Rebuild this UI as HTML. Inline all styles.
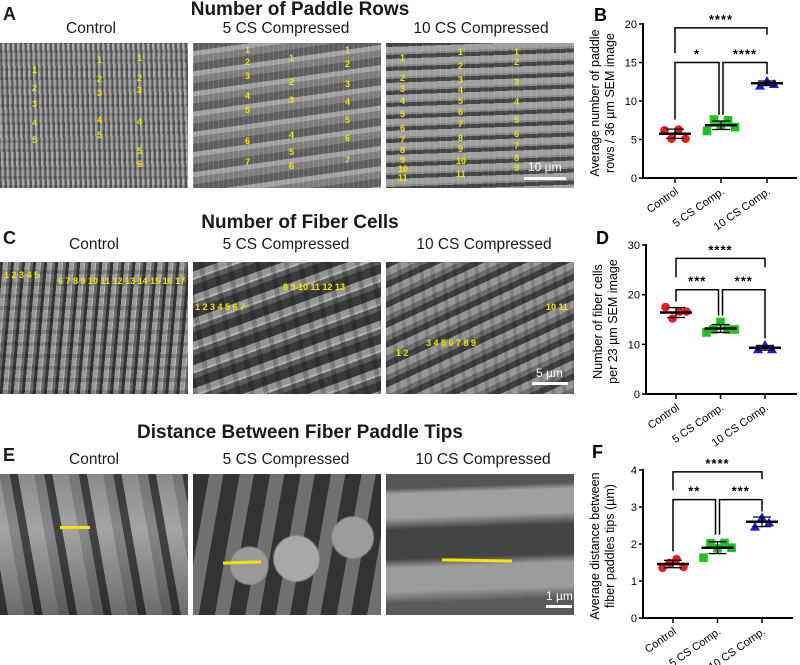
<!DOCTYPE html>
<html><head><meta charset="utf-8">
<style>
body{margin:0;width:800px;height:665px;background:#fff;position:relative;overflow:hidden;font-family:"Liberation Sans",Arial,sans-serif;color:#1a1a1a}
.t{position:absolute;white-space:nowrap}
.title{font-weight:bold;font-size:19px;transform:translateX(-50%)}
.lab{font-size:15.5px;transform:translateX(-50%)}
.pl{font-weight:bold;font-size:18px}
.img{position:absolute;overflow:hidden}
.y{position:absolute;color:#f2e600;font-size:9px;font-weight:bold}
.sb{position:absolute;height:3px;background:#fff}
.sbt{position:absolute;color:#fff;font-size:12px}
.yl{position:absolute;height:3px;background:#f5e400}
</style></head><body>

<div class="t pl" style="left:3px;top:4px">A</div>
<div class="t title" style="left:300px;top:-1px">Number of Paddle Rows</div>
<div class="t lab" style="left:91px;top:20px">Control</div>
<div class="t lab" style="left:286px;top:20px">5 CS Compressed</div>
<div class="t lab" style="left:481px;top:20px">10 CS Compressed</div>

<div class="img" style="left:0;top:43px;width:188px;height:145px;background:repeating-linear-gradient(0deg,rgba(0,0,0,.15) 0 3px,transparent 3px 9px),repeating-linear-gradient(88deg,#5a5a5a 0 2px,#aaa 2px 4px,#858585 4px 5px),#888">
<span class="y" style="left:32px;top:22px">1</span><span class="y" style="left:32px;top:40px">2</span><span class="y" style="left:32px;top:56px">3</span><span class="y" style="left:32px;top:75px">4</span><span class="y" style="left:32px;top:92px">5</span>
<span class="y" style="left:97px;top:12px">1</span><span class="y" style="left:97px;top:31px">2</span><span class="y" style="left:97px;top:45px">3</span><span class="y" style="left:97px;top:72px">4</span><span class="y" style="left:97px;top:87px">5</span>
<span class="y" style="left:137px;top:10px">1</span><span class="y" style="left:137px;top:30px">2</span><span class="y" style="left:137px;top:42px">3</span><span class="y" style="left:137px;top:74px">4</span><span class="y" style="left:137px;top:103px">5</span><span class="y" style="left:137px;top:116px">6</span>
</div>
<div class="img" style="left:193px;top:43px;width:188px;height:145px;background:repeating-linear-gradient(90deg,rgba(255,255,255,.12) 0 1px,transparent 1px 5px),repeating-linear-gradient(172deg,#5e5e5e 0 8px,#a2a2a2 8px 13px,#7e7e7e 13px 20px),#888">
<span class="y" style="left:52px;top:2px">1</span><span class="y" style="left:52px;top:14px">2</span><span class="y" style="left:52px;top:28px">3</span><span class="y" style="left:52px;top:48px">4</span><span class="y" style="left:52px;top:62px">5</span><span class="y" style="left:52px;top:93px">6</span><span class="y" style="left:52px;top:114px">7</span>
<span class="y" style="left:96px;top:10px">1</span><span class="y" style="left:96px;top:34px">2</span><span class="y" style="left:96px;top:52px">3</span><span class="y" style="left:96px;top:87px">4</span><span class="y" style="left:96px;top:104px">5</span><span class="y" style="left:96px;top:118px">6</span>
<span class="y" style="left:152px;top:2px">1</span><span class="y" style="left:152px;top:16px">2</span><span class="y" style="left:152px;top:36px">3</span><span class="y" style="left:152px;top:54px">4</span><span class="y" style="left:152px;top:72px">5</span><span class="y" style="left:152px;top:90px">6</span><span class="y" style="left:152px;top:112px">7</span>
</div>
<div class="img" style="left:386px;top:43px;width:188px;height:145px;background:repeating-linear-gradient(90deg,rgba(255,255,255,.1) 0 1px,transparent 1px 6px),repeating-linear-gradient(178deg,#444 0 4px,#a0a0a0 4px 10px,#888 10px 12px),#888">
<span class="y" style="left:14px;top:10px">1</span><span class="y" style="left:14px;top:30px">2</span><span class="y" style="left:14px;top:41px">3</span><span class="y" style="left:14px;top:53px">4</span><span class="y" style="left:14px;top:66px">5</span><span class="y" style="left:14px;top:80px">6</span><span class="y" style="left:14px;top:92px">7</span><span class="y" style="left:14px;top:102px">8</span><span class="y" style="left:14px;top:112px">9</span><span class="y" style="left:12px;top:121px">10</span><span class="y" style="left:12px;top:130px">11</span>
<span class="y" style="left:72px;top:4px">1</span><span class="y" style="left:72px;top:18px">2</span><span class="y" style="left:72px;top:32px">3</span><span class="y" style="left:72px;top:42px">4</span><span class="y" style="left:72px;top:53px">5</span><span class="y" style="left:72px;top:64px">6</span><span class="y" style="left:72px;top:76px">7</span><span class="y" style="left:72px;top:90px">8</span><span class="y" style="left:72px;top:101px">9</span><span class="y" style="left:70px;top:113px">10</span><span class="y" style="left:70px;top:126px">11</span>
<span class="y" style="left:128px;top:4px">1</span><span class="y" style="left:128px;top:14px">2</span><span class="y" style="left:128px;top:34px">3</span><span class="y" style="left:128px;top:54px">4</span><span class="y" style="left:128px;top:72px">5</span><span class="y" style="left:128px;top:86px">6</span><span class="y" style="left:128px;top:98px">7</span><span class="y" style="left:128px;top:110px">8</span><span class="y" style="left:128px;top:120px">9</span>
<div class="sb" style="left:138px;top:134px;width:42px"></div><span class="sbt" style="left:142px;top:117px">10 µm</span>
</div>

<div class="t pl" style="left:3px;top:228px">C</div>
<div class="t title" style="left:300px;top:212px">Number of Fiber Cells</div>
<div class="t lab" style="left:94px;top:236px">Control</div>
<div class="t lab" style="left:286px;top:236px">5 CS Compressed</div>
<div class="t lab" style="left:484px;top:236px">10 CS Compressed</div>
<div class="img" style="left:0;top:262px;width:188px;height:132px;background:repeating-linear-gradient(0deg,rgba(0,0,0,.18) 0 4px,transparent 4px 12px),repeating-linear-gradient(95deg,#363636 0 3px,#9a9a9a 3px 7px,#b8b8b8 7px 8px,#6a6a6a 8px 11px),#777">
<span class="y" style="left:4px;top:8px">1 2 3 4 5</span><span class="y" style="left:58px;top:14px">6 7 8 9 10 11 12 13 14 15 16 17</span>
</div>
<div class="img" style="left:193px;top:262px;width:188px;height:132px;background:repeating-linear-gradient(80deg,rgba(0,0,0,.2) 0 5px,transparent 5px 14px),repeating-linear-gradient(160deg,#3a3a3a 0 9px,#969696 9px 15px,#b4b4b4 15px 17px,#5e5e5e 17px 22px),#777">
<span class="y" style="left:2px;top:40px">1 2 3 4 5 6 7</span><span class="y" style="left:90px;top:20px">8 9 10 11 12 13</span>
</div>
<div class="img" style="left:386px;top:262px;width:188px;height:132px;background:repeating-linear-gradient(85deg,rgba(0,0,0,.15) 0 4px,transparent 4px 11px),repeating-linear-gradient(155deg,#404040 0 6px,#969696 6px 13px,#6f6f6f 13px 18px),#777">
<span class="y" style="left:10px;top:86px">1 2</span><span class="y" style="left:40px;top:76px">3 4 5 6 7 8 9</span><span class="y" style="left:160px;top:40px">10 11</span>
<div class="sb" style="left:146px;top:120px;width:36px"></div><span class="sbt" style="left:150px;top:104px">5 µm</span>
</div>

<div class="t pl" style="left:3px;top:445px">E</div>
<div class="t title" style="left:300px;top:422px">Distance Between Fiber Paddle Tips</div>
<div class="t lab" style="left:94px;top:451px">Control</div>
<div class="t lab" style="left:286px;top:451px">5 CS Compressed</div>
<div class="t lab" style="left:483px;top:451px">10 CS Compressed</div>
<div class="img" style="left:0;top:474px;width:188px;height:141px;background:linear-gradient(180deg,rgba(0,0,0,.15),rgba(0,0,0,0) 40%,rgba(0,0,0,.35)),repeating-linear-gradient(80deg,#444 0 8px,#a4a4a4 8px 24px,#888 24px 34px),#808080">
<div class="yl" style="left:60px;top:52px;width:30px"></div></div>
<div class="img" style="left:193px;top:474px;width:188px;height:141px;background:radial-gradient(circle at 55% 60%,#a8a8a8 0 22px,transparent 24px),radial-gradient(circle at 85% 45%,#9c9c9c 0 20px,transparent 22px),radial-gradient(circle at 30% 65%,#9a9a9a 0 18px,transparent 20px),repeating-linear-gradient(100deg,#333 0 16px,#707070 16px 30px),#555">
<div class="yl" style="left:30px;top:87px;width:38px;transform:rotate(-2deg)"></div></div>
<div class="img" style="left:386px;top:474px;width:188px;height:141px;background:linear-gradient(178deg,#555 0 10%,#a0a0a0 14% 30%,#444 38% 58%,#9c9c9c 64% 80%,#5a5a5a 88%)">
<div class="yl" style="left:56px;top:85px;width:70px;transform:rotate(1deg)"></div>
<div class="sb" style="left:160px;top:131px;width:26px"></div><span class="sbt" style="left:160px;top:115px">1 µm</span>
</div>

<svg id="charts" width="800" height="665" style="position:absolute;left:0;top:0"></svg>

<script>
const categories=["Control","5 CS Comp.","10 CS Comp."];
const bVals=[[6.2,5.1,6.3,5.1],[6.1,7.6,6.9,7.5,6.6],[12.0,12.6,12.2]];
const bMeans=[5.75,6.85,12.3];
const bSd=[0.6,0.55,0.3];
const bTicks=[0,5,10,15,20];
const dVals=[[17.5,15.2,16.6,16.6],[12.4,13.0,14.5,13.0,13.0],[9.0,9.9,9.0]];
const dMeans=[16.4,13.2,9.3];
const dSd=[1.0,0.8,0.45];
const dTicks=[0,10,20,30];
const fVals=[[1.36,1.49,1.59,1.38],[1.63,2.02,1.88,2.03,1.9],[2.47,2.72,2.58]];
const fMeans=[1.46,1.9,2.6];
const fSd=[0.1,0.16,0.13];
const fTicks=[0,1,2,3,4];
const bSig=[[0,2,19.5,16.2,18.6,"****"],[0,1,15,7.6,8.2,"*"],[1,2,15,8.2,13.5,"****"]];
const dSig=[[0,2,27.3,23.5,25.5,"****"],[0,1,21,18.6,15.8,"***"],[1,2,21,15.8,11.2,"***"]];
const fSig=[[0,2,3.95,3.45,3.75,"****"],[0,1,3.2,1.8,2.25,"**"],[1,2,3.2,2.25,2.88,"***"]];

const NS="http://www.w3.org/2000/svg";
const svg=document.getElementById("charts");
function mk(tag,attrs,parent){const e=document.createElementNS(NS,tag);for(const k in attrs)e.setAttribute(k,attrs[k]);(parent||svg).appendChild(e);return e;}
const colors=["#e81c1c","#1fc21f","#1a1aee"];

function chart(id,g){
  const grp=mk("g",{});
  
  
  const maxV=g.ticks[g.ticks.length-1];
  const Y=v=>g.y0-(v/maxV)*(g.y0-g.yTop);
  const X=i=>g.ax+g.first+i*g.step;
  const yAxis=mk("line",{x1:g.ax,y1:g.yTop-1,x2:g.ax,y2:g.y0+1,stroke:"#000","stroke-width":2},grp);
  
  
  const xAxis=mk("line",{x1:g.ax-1,y1:g.y0,x2:g.xEnd,y2:g.y0,stroke:"#000","stroke-width":2},grp);
  
  
  g.ticks.forEach(t=>{
    mk("line",{x1:g.ax-4,y1:Y(t),x2:g.ax,y2:Y(t),stroke:"#000","stroke-width":1.5},grp);
    const tx=mk("text",{x:g.ax-6,y:Y(t)+4,"text-anchor":"end","font-size":11,"font-family":"Liberation Sans, sans-serif"},grp);
    tx.textContent=t;
    
    
  });
  categories.forEach((c,i)=>{
    mk("line",{x1:X(i),y1:g.y0,x2:X(i),y2:g.y0+5,stroke:"#000","stroke-width":1.5},grp);
    const tx=mk("text",{x:X(i)+4,y:g.y0+15,"text-anchor":"end","font-size":11,"font-family":"Liberation Sans, sans-serif",transform:`rotate(-35 ${X(i)+4} ${g.y0+15})`},grp);
    tx.textContent=c;
    
    
  });
  g.vals.forEach((arr,i)=>{
    arr.forEach((v,k)=>{
      const n=arr.length;const dx=(k-(n-1)/2)*7;const cx=X(i)+dx,cy=Y(v);let m;
      if(i===0)m=mk("circle",{cx:cx,cy:cy,r:4.3,fill:colors[0]},grp);
      else if(i===1)m=mk("rect",{x:cx-4.3,y:cy-4.3,width:8.6,height:8.6,fill:colors[1]},grp);
      else m=mk("polygon",{points:`${cx},${cy-5} ${cx+5},${cy+4} ${cx-5},${cy+4}`,fill:colors[2]},grp);
      
      
    });
    const mY=Y(g.means[i]),hi=Y(g.means[i]+g.sd[i]),lo=Y(g.means[i]-g.sd[i]);
    const ml=mk("line",{x1:X(i)-16,y1:mY,x2:X(i)+16,y2:mY,stroke:"#000","stroke-width":2.5},grp);
    
    
    const eb=mk("path",{d:`M${X(i)},${hi}V${lo}M${X(i)-9},${hi}H${X(i)+9}M${X(i)-9},${lo}H${X(i)+9}`,stroke:"#000","stroke-width":1.3,fill:"none"},grp);
    
    
  });
  g.sig.forEach(s=>{
    const [a,b,lv,l1,l2,lab]=s;
    const xa=X(a)+(a===1?2:0),xb=X(b)-(b===1?2:0);
    const br=mk("path",{d:`M${xa},${Y(l1)}V${Y(lv)}H${xb}V${Y(l2)}`,stroke:"#000","stroke-width":1.5,fill:"none"},grp);
    
    
    const st=mk("text",{x:(xa+xb)/2,y:Y(lv)-4,"text-anchor":"middle","font-size":13,"font-weight":"bold","font-family":"Liberation Sans, sans-serif","letter-spacing":"1"},grp);
    st.textContent=lab;
    
    
  });
  const cx=g.ax-42, cy=(g.yTop+g.y0)/2+2;
  const yt=mk("text",{x:cx,y:cy,"text-anchor":"middle","font-size":12.5,"font-family":"Liberation Sans, sans-serif",transform:`rotate(-90 ${cx} ${cy})`},grp);
  
  
  g.title.forEach((t,k)=>{const ts=mk("tspan",{x:cx,dy:k?15:-2},yt);ts.textContent=t;});
  const pl=mk("text",{x:g.plx,y:g.ply,"font-size":18,"font-weight":"bold","font-family":"Liberation Sans, sans-serif"},grp);
  pl.textContent=id.toUpperCase();
  
  
}
chart("b",{ax:643,y0:178,yTop:24,xEnd:797,first:32,step:46,ticks:bTicks,vals:bVals,means:bMeans,sd:bSd,sig:bSig,title:["Average number of paddle","rows / 36 µm SEM image"],plx:594,ply:21});
chart("d",{ax:646,y0:394,yTop:245,xEnd:797,first:30,step:44.5,ticks:dTicks,vals:dVals,means:dMeans,sd:dSd,sig:dSig,title:["Number of fiber cells","per 23 µm SEM image"],plx:596,ply:244});
chart("f",{ax:643,y0:618,yTop:470,xEnd:793,first:30,step:44.5,ticks:fTicks,vals:fVals,means:fMeans,sd:fSd,sig:fSig,title:["Average distance between","fiber paddles tips (µm)"],plx:592,ply:458});
</script>
</body></html>
